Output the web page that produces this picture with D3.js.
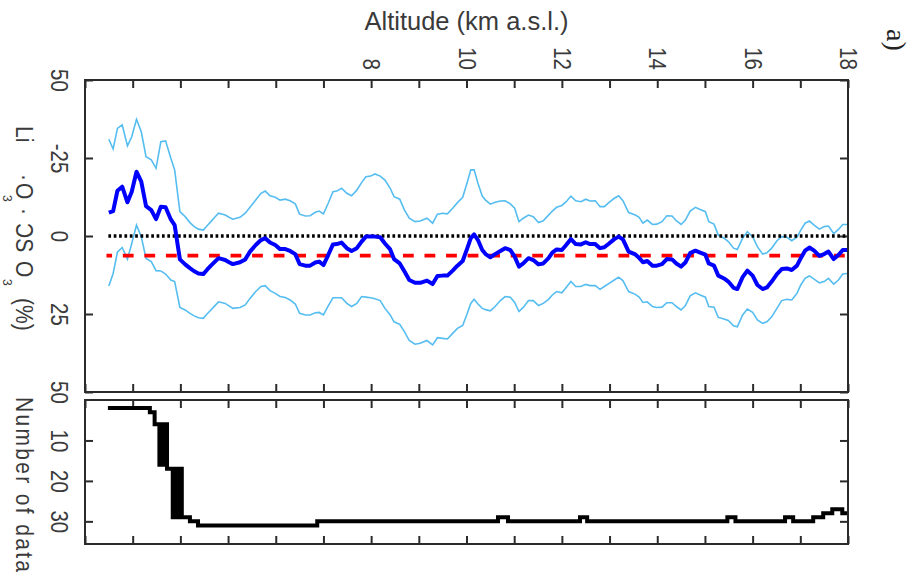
<!DOCTYPE html>
<html>
<head>
<meta charset="utf-8">
<script src="https://cdn.jsdelivr.net/npm/d3@7"></script>
<style>
  body { margin: 0; background: #fff; }
  svg { display: block; font-family: "Liberation Sans", Arial, sans-serif; }
</style>
</head>
<body>
<div id="chart"></div>
<script>
// altitude grid (km a.s.l.) of the profile readings
const altitude = [2.50, 2.59, 2.68, 2.78, 2.89, 2.98, 3.08, 3.18, 3.28, 3.39, 3.49, 3.59, 3.69, 3.80, 3.88, 3.99,
  4.10, 4.20, 4.29, 4.38, 4.48, 4.56, 4.64, 4.72, 4.80, 4.94, 5.02, 5.10, 5.25, 5.36, 5.46, 5.58, 5.69, 5.78, 5.88, 5.99,
  6.09, 6.20, 6.30, 6.41, 6.50, 6.62, 6.72, 6.83, 6.91, 7.00, 7.10, 7.20, 7.28, 7.38, 7.49, 7.59, 7.70, 7.80, 7.89, 7.99,
  8.08, 8.19, 8.29, 8.40, 8.48, 8.60, 8.70, 8.80, 8.92, 9.03, 9.17, 9.29, 9.39, 9.50, 9.60, 9.71, 9.81, 9.92,
  10.01, 10.09, 10.16, 10.24, 10.33, 10.40, 10.50, 10.60, 10.71, 10.81, 10.92, 11.01, 11.10, 11.19, 11.30, 11.40, 11.51,
  11.61, 11.72, 11.80, 11.89, 12.00, 12.09, 12.19, 12.29, 12.40, 12.50, 12.59, 12.70, 12.80, 12.89, 12.99, 13.10, 13.19,
  13.28, 13.40, 13.54, 13.62, 13.70, 13.79, 13.90, 13.99, 14.10, 14.20, 14.31, 14.40, 14.50, 14.59, 14.69, 14.80, 14.90,
  15.01, 15.08, 15.19, 15.28, 15.40, 15.49, 15.60, 15.68, 15.79, 15.89, 16.00, 16.10, 16.21, 16.30, 16.40, 16.51, 16.61,
  16.72, 16.82, 16.93, 17.01, 17.10, 17.19, 17.29, 17.40, 17.50, 17.59, 17.70, 17.80, 17.89, 17.98];

// mean relative difference (%)
const meanDiff = [-7.5, -8.0, -14.5, -15.8, -10.8, -14.2, -20.6, -17.4, -9.6, -8.3, -5.4, -9.4, -9.2, -5.3, -3.5, 7.5,
  9.1, 10.3, 11.3, 12.0, 12.2, 10.8, 9.5, 8.3, 7.1, 7.7, 8.4, 9.0, 8.4, 7.5, 5.0, 2.9, 1.3, 0.7, 2.1, 2.9,
  4.2, 4.2, 4.8, 5.8, 9.0, 9.5, 9.5, 8.5, 8.2, 9.3, 6.1, 2.7, 2.6, 2.1, 3.9, 4.8, 3.9, 1.8, 0.2, 0.2,
  0.2, 0.4, 2.4, 4.3, 7.4, 8.8, 11.4, 14.1, 15.0, 15.0, 14.3, 15.4, 12.8, 12.7, 12.7, 11.1, 9.5, 8.0,
  4.2, 0.7, -0.5, 1.3, 4.5, 5.8, 6.8, 5.8, 4.8, 3.9, 4.5, 6.6, 9.8, 8.8, 7.1, 7.7, 9.1,
  8.8, 7.1, 5.3, 4.3, 4.5, 2.9, 1.0, 2.6, 2.7, 2.0, 2.6, 2.6, 3.9, 3.6, 2.4, 1.0, 0.2,
  1.1, 5.0, 5.9, 7.0, 8.4, 8.0, 9.5, 9.5, 9.0, 7.4, 7.5, 8.8, 9.8, 8.5, 5.5, 4.7, 5.3,
  6.0, 8.8, 9.5, 12.7, 13.6, 14.6, 16.6, 17.0, 13.2, 11.1, 12.7, 15.7, 17.0, 16.5, 14.6, 12.2, 10.6,
  10.4, 10.9, 9.5, 7.1, 4.7, 3.7, 4.7, 6.4, 5.8, 5.0, 7.4, 6.1, 4.5, 4.5];

// mean - 1 sigma (%)
const bandLow = [-31.0, -27.9, -34.5, -35.6, -28.9, -31.8, -37.4, -33.4, -25.4, -24.4, -21.7, -30.2, -30.5, -24.9, -21.2, -7.8,
  -6.2, -4.3, -3.0, -2.2, -1.9, -3.3, -4.6, -6.0, -7.3, -6.7, -6.0, -5.4, -6.0, -7.3, -9.2, -11.5, -13.7, -14.4, -12.9, -12.4,
  -11.5, -11.8, -11.3, -10.3, -7.0, -6.4, -6.5, -7.6, -8.0, -7.1, -10.5, -14.2, -14.4, -15.3, -13.7, -12.9, -14.7, -17.1, -19.0, -19.2,
  -19.9, -19.2, -17.9, -15.3, -12.6, -11.8, -8.3, -5.7, -4.6, -4.8, -5.7, -4.1, -7.0, -7.3, -7.1, -8.9, -10.7, -12.4,
  -16.9, -21.2, -21.2, -16.9, -12.8, -11.5, -10.2, -10.8, -11.2, -11.3, -10.3, -8.9, -4.6, -5.7, -6.7, -6.2, -4.3,
  -4.9, -6.7, -8.0, -9.2, -9.8, -11.0, -12.8, -11.3, -11.0, -11.8, -11.2, -11.3, -9.4, -9.4, -10.8, -12.1, -12.9,
  -11.3, -7.5, -6.7, -6.0, -4.1, -5.1, -3.7, -3.8, -4.6, -6.5, -6.4, -4.9, -3.7, -5.1, -8.0, -9.2, -8.5,
  -7.8, -4.6, -3.8, -0.3, 0.7, 1.8, 3.9, 4.3, 0.7, -1.4, 0.2, 3.4, 5.8, 5.4, 3.9, 1.5, 0.2,
  0.4, 1.5, 0.4, -1.9, -4.1, -4.8, -3.5, -2.2, -3.0, -3.2, -0.8, -2.1, -3.7, -3.7];

// mean + 1 sigma (%)
const bandHigh = [16.0, 12.0, 5.2, 3.7, 7.4, 2.4, -3.5, 0.2, 7.2, 8.2, 11.1, 11.2, 12.2, 14.1, 14.6, 22.9,
  23.7, 24.8, 25.6, 26.2, 26.4, 25.0, 23.7, 22.4, 21.1, 21.6, 22.4, 23.2, 22.9, 22.1, 20.0, 17.8, 16.2, 15.9, 17.5, 18.4,
  19.4, 19.7, 20.5, 21.8, 24.8, 25.3, 25.3, 24.6, 24.5, 25.3, 22.4, 19.8, 19.8, 19.8, 21.6, 22.6, 21.6, 19.4, 19.6, 19.8,
  20.1, 20.7, 23.2, 25.3, 27.5, 28.3, 30.7, 33.5, 34.7, 34.4, 33.5, 34.9, 32.6, 32.8, 33.0, 31.2, 29.6, 28.7,
  25.1, 21.6, 20.3, 21.8, 23.2, 23.6, 24.0, 22.6, 20.7, 19.4, 19.6, 21.3, 24.2, 22.9, 20.7, 20.7, 22.3,
  21.6, 20.3, 18.9, 17.8, 18.2, 16.5, 14.6, 16.2, 16.2, 15.5, 15.9, 15.9, 17.1, 16.2, 15.2, 14.1, 13.2,
  14.3, 17.8, 18.7, 19.6, 21.3, 21.1, 22.6, 22.9, 22.8, 21.4, 21.4, 22.6, 23.7, 22.3, 19.2, 18.2, 18.9,
  19.6, 22.6, 22.8, 26.1, 26.6, 27.1, 28.8, 29.1, 25.3, 23.4, 24.5, 26.9, 28.0, 27.5, 25.9, 23.2, 20.7,
  20.3, 20.5, 18.4, 15.7, 13.6, 12.8, 13.8, 15.0, 14.6, 13.6, 15.4, 14.1, 12.2, 12.0];

// overall mean bias (%) and zero reference
const meanBias = 6.3;
const zeroRef = 0;
const refSpan = [2.45, 18];

// number of data per altitude (step profile)
const countAlt = [2.48, 3.36, 3.46, 3.56, 3.58, 3.60, 3.62, 3.64, 3.66, 3.68, 3.70, 3.72,
  3.84, 3.86, 3.88, 3.90, 3.92, 3.94, 3.96, 3.98, 4.00, 4.02, 4.03, 4.20, 4.37,
  6.87, 10.66, 10.87, 12.38, 12.53, 15.47, 15.64, 16.68, 16.85, 17.27, 17.48, 17.67, 17.88, 18.0];
const countN = [2, 3, 6, 16, 6, 16, 6, 16, 6, 16, 6, 17,
  29, 17, 29, 17, 29, 17, 29, 17, 29, 17, 29, 30, 31,
  30, 29, 30, 29, 30, 29, 30, 29, 30, 29, 28, 27, 28, 28];

// ticks
const altTicks = [2, 3, 4, 5, 6, 7, 8, 9, 10, 11, 12, 13, 14, 15, 16, 17, 18];
const altLabels = [8, 10, 12, 14, 16, 18];
const diffTicks = [-50, -25, 0, 25, 50];
const diffTickLabels = ['50', '-25', '0', '25', '50'];
const countTicks = [10, 20, 30];

const W = 921, H = 581;
const SX = 1.13; // the figure's rotated text is slightly stretched horizontally
const textColor = '#3a3a3a';
const axisColor = '#2b2b2b';

const svg = d3.select('#chart').append('svg')
    .attr('width', W)
    .attr('height', H);

const x = d3.scaleLinear().domain([2, 18]).range([85, 848]);
const yTop = d3.scaleLinear().domain([-50, 50]).range([80, 392]);
const yBot = d3.scaleLinear().domain([0, 35.6]).range([400, 544]);

// style ticks of an axis group, drop its domain path
function styleAxis(g) {
    g.select('.domain').remove();
    g.selectAll('.tick line').attr('stroke', axisColor).attr('stroke-width', 2);
    g.selectAll('.tick text').attr('fill', textColor).attr('font-size', 20.5)
        .attr('font-family', '"Liberation Sans", Arial, sans-serif');
}

// rotate tick text 90 deg clockwise
function rotateText(g, dx, dy, anchor) {
    g.selectAll('.tick text')
        .attr('x', null).attr('y', null).attr('dy', null)
        .attr('text-anchor', anchor)
        .attr('transform', `translate(${dx},${dy}) scale(${SX},1) rotate(90)`);
}

// ---- top panel ----
svg.append('g')
    .attr('transform', 'translate(0,80)')
    .call(d3.axisTop(x).tickValues(altTicks).tickSize(-8)
        .tickFormat(d => altLabels.includes(d) ? d : ''))
    .call(styleAxis)
    .call(g => rotateText(g, -8.3, -10, 'end'));

svg.append('g')
    .attr('transform', 'translate(0,392)')
    .call(d3.axisBottom(x).tickValues(altTicks).tickSize(-8).tickFormat(''))
    .call(styleAxis);

svg.append('g')
    .attr('transform', 'translate(85,0)')
    .call(d3.axisLeft(yTop).tickValues(diffTicks).tickSize(-8)
        .tickFormat(d => diffTickLabels[diffTicks.indexOf(d)]))
    .call(styleAxis)
    .call(g => rotateText(g, -34.5, 0, 'middle'));

svg.append('g')
    .attr('transform', 'translate(848,0)')
    .call(d3.axisRight(yTop).tickValues(diffTicks).tickSize(-8).tickFormat(''))
    .call(styleAxis);

// band curves
const bandLine = arr => d3.line()
    .x((d, i) => x(altitude[i]))
    .y((d, i) => yTop(arr[i]))(arr);

svg.append('path')
    .attr('d', bandLine(bandLow))
    .attr('fill', 'none')
    .attr('stroke', '#55bdf0')
    .attr('stroke-width', 1.6);

svg.append('path')
    .attr('d', bandLine(bandHigh))
    .attr('fill', 'none')
    .attr('stroke', '#55bdf0')
    .attr('stroke-width', 1.6);

// zero line (dotted) and mean bias (dashed)
svg.append('line')
    .attr('x1', x(2.49)).attr('x2', x(refSpan[1]))
    .attr('y1', yTop(zeroRef)).attr('y2', yTop(zeroRef))
    .attr('stroke', '#000')
    .attr('stroke-width', 3.4)
    .attr('stroke-dasharray', '2.7,2.66');

svg.append('line')
    .attr('x1', x(refSpan[0])).attr('x2', x(refSpan[1]))
    .attr('y1', yTop(meanBias)).attr('y2', yTop(meanBias))
    .attr('stroke', '#ff0000')
    .attr('stroke-width', 3.6)
    .attr('stroke-dasharray', '10.8,10.75')
    .attr('stroke-dashoffset', 5.2);

// mean profile
svg.append('path')
    .attr('d', bandLine(meanDiff))
    .attr('fill', 'none')
    .attr('stroke', '#0000ff')
    .attr('stroke-width', 4)
    .attr('stroke-linejoin', 'round');

svg.append('rect')
    .attr('x', 85).attr('y', 80)
    .attr('width', 763).attr('height', 312)
    .attr('fill', 'none')
    .attr('stroke', axisColor)
    .attr('stroke-width', 2);

// ---- bottom panel ----
svg.append('g')
    .attr('transform', 'translate(0,400)')
    .call(d3.axisTop(x).tickValues(altTicks).tickSize(-8).tickFormat(''))
    .call(styleAxis);

svg.append('g')
    .attr('transform', 'translate(0,544)')
    .call(d3.axisBottom(x).tickValues(altTicks).tickSize(-8).tickFormat(''))
    .call(styleAxis);

svg.append('g')
    .attr('transform', 'translate(85,0)')
    .call(d3.axisLeft(yBot).tickValues(countTicks).tickSize(-8))
    .call(styleAxis)
    .call(g => rotateText(g, -34.5, 0, 'middle'));

svg.append('g')
    .attr('transform', 'translate(848,0)')
    .call(d3.axisRight(yBot).tickValues(countTicks).tickSize(-8).tickFormat(''))
    .call(styleAxis);

svg.append('path')
    .attr('d', d3.line()
        .curve(d3.curveStepAfter)
        .x((d, i) => x(countAlt[i]))
        .y(d => yBot(d))(countN))
    .attr('fill', 'none')
    .attr('stroke', '#000')
    .attr('stroke-width', 4);

svg.append('rect')
    .attr('x', 85).attr('y', 400)
    .attr('width', 763).attr('height', 144)
    .attr('fill', 'none')
    .attr('stroke', axisColor)
    .attr('stroke-width', 2);

// ---- titles ----
svg.append('text')
    .attr('x', 466.5)
    .attr('y', 30)
    .attr('text-anchor', 'middle')
    .attr('font-size', 25.5)
    .attr('fill', textColor)
    .text('Altitude (km a.s.l.)');

// y label of the top panel, partly erased in the original
const yLabelParts = [
    { t: 'Li', y: 126, base: 15.5, size: 21 },
    { t: '\u00b7', y: 174, base: 17, size: 21 },
    { t: 'O', y: 183, base: 15.5, size: 21 },
    { t: '3', y: 195, base: 3, size: 12 },
    { t: '\u00b7', y: 208, base: 17, size: 21 },
    { t: '\u0186S', y: 223, base: 15.5, size: 21 },
    { t: 'O', y: 261, base: 15.5, size: 21 },
    { t: '3', y: 279, base: 3, size: 12 },
    { t: '(%)', y: 298, base: 15.5, size: 21 }
];
svg.append('g')
    .selectAll('text')
    .data(yLabelParts)
    .enter()
    .append('text')
    .attr('transform', d => `translate(${d.base},${d.y}) scale(${SX},1) rotate(90)`)
    .attr('font-size', d => d.size)
    .attr('fill', textColor)
    .text(d => d.t);

svg.append('text')
    .attr('transform', `translate(15.5,397) scale(${SX},1) rotate(90)`)
    .attr('font-size', 21)
    .attr('fill', textColor)
    .attr('textLength', 175)
    .attr('lengthAdjust', 'spacing')
    .text('Number of data');

svg.append('text')
    .attr('transform', 'translate(887,29) rotate(90)')
    .attr('font-family', '"Liberation Serif", "Times New Roman", serif')
    .attr('font-size', 28)
    .attr('fill', '#222')
    .text('a)');
</script>
</body>
</html>
